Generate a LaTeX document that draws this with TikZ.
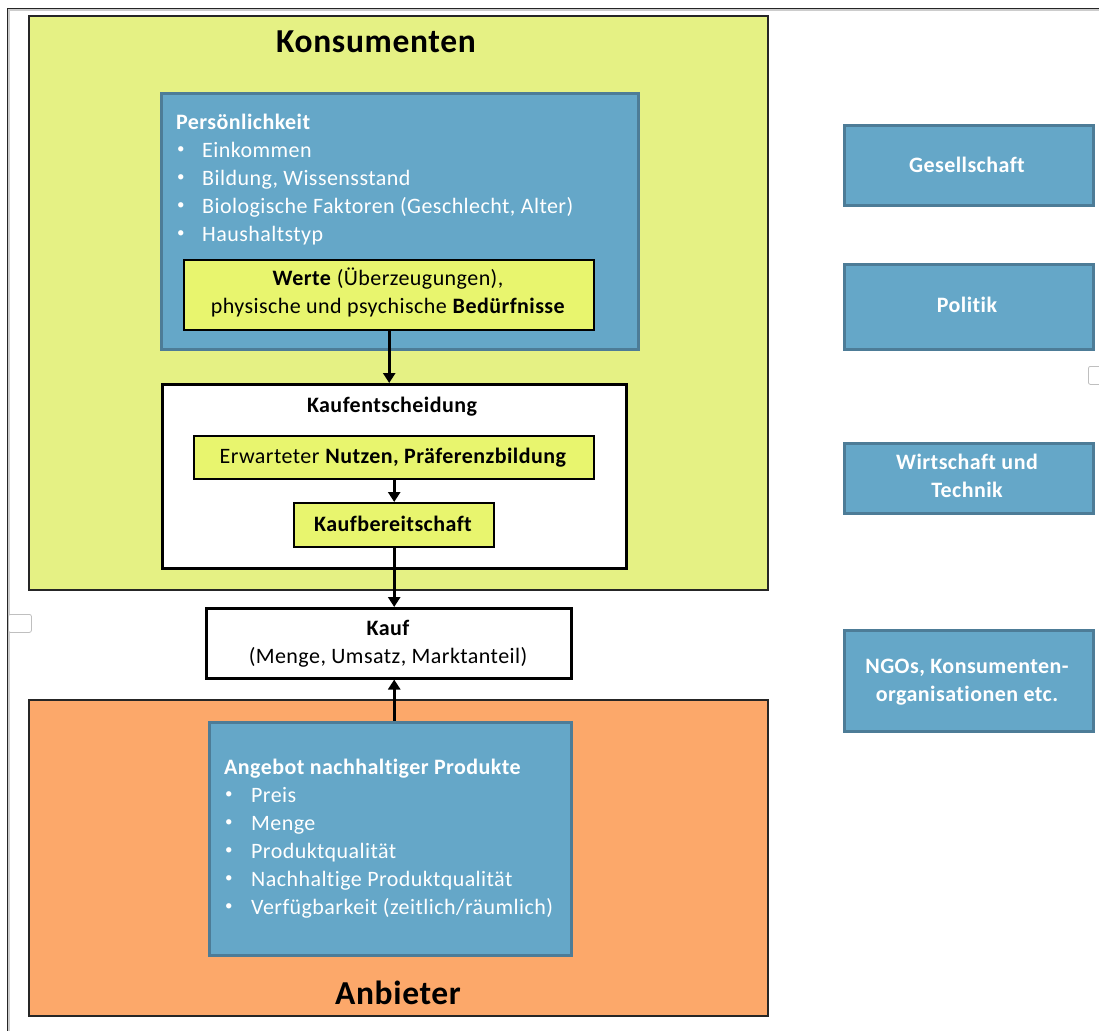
\documentclass[tikz,border=0pt]{standalone}
\usepackage{fontspec}
\setmainfont{Carlito}[LetterSpace=2, Ligatures={NoCommon}]
\usetikzlibrary{arrows.meta,shadows}
\definecolor{konsumfill}{HTML}{E5F184}
\definecolor{innerfill}{HTML}{E8F56E}
\definecolor{bluefill}{HTML}{65A7C8}
\definecolor{blueedge}{HTML}{4D7C97}
\definecolor{anbieterfill}{HTML}{FCA86A}
\newcommand{\bodysize}{\fontsize{22}{28}\selectfont}
\begin{document}
\begin{tikzpicture}[x=1pt,y=-1pt,
  panel/.style={draw=black!85, line width=1.6pt, anchor=north west, inner sep=0pt,
    general shadow={fill=black!30, shadow xshift=1.3pt, shadow yshift=-1.3pt}},
  bluebox/.style={draw=blueedge, fill=bluefill, line width=2.6pt, anchor=north west, inner sep=0pt,
    general shadow={fill=black!18, shadow xshift=1pt, shadow yshift=-1pt}},
  innerbox/.style={draw=black, fill=innerfill, line width=2.4pt, anchor=north west, inner sep=0pt},
  whitebox/.style={draw=black, fill=white, line width=2.8pt, anchor=north west, inner sep=0pt},
  title/.style={font=\fontsize{33.5}{40}\selectfont\bfseries, anchor=base, inner sep=0pt},
  txt/.style={font=\bodysize, anchor=base, inner sep=0pt},
  btxt/.style={font=\bodysize\bfseries, anchor=base, inner sep=0pt},
  wtxt/.style={txt, text=white},
  wbtxt/.style={btxt, text=white},
  dot/.style={font=\fontsize{15}{20}\selectfont, text=white, anchor=west, inner sep=0pt},
  arr/.style={line width=3.2pt, -{Triangle[width=12pt,length=10pt]}},
  tab/.style={draw=black!25, fill=white, line width=0.8pt, rounded corners=2pt, anchor=north west, inner sep=0pt}
]
\useasboundingbox (0,0) rectangle (1099,1030);

% page frame
\draw[black!20, line width=2.4pt] (8.8,1040) -- (8.8,9.8) -- (1110,9.8);
\draw[black!85, line width=1.8pt] (7.5,1040) -- (7.5,8.5) -- (1110,8.5);

% small tabs at the edges
\node[tab, minimum width=23pt, minimum height=18pt] (tabL) at (8,614) {};
\node[tab, minimum width=20pt, minimum height=18pt] (tabR) at (1088,366) {};

% consumer and supplier panels
\node[panel, fill=konsumfill, minimum width=739pt, minimum height=574pt] (konsum) at (28,15) {};
\node[title] (konsumT) at (376,53) {Konsumenten};
\node[panel, fill=anbieterfill, minimum width=739pt, minimum height=316pt] (anbieter) at (28,699) {};
\node[title] (anbieterT) at (398,1004) {Anbieter};

% personality
\node[bluebox, minimum width=477pt, minimum height=256pt] (pers) at (160,92) {};
\node[wbtxt, anchor=base west] (persT) at (176,129) {Persönlichkeit};
\foreach \t [count=\i] in {Einkommen, {Bildung, Wissensstand}, {Biologische Faktoren (Geschlecht, Alter)}, Haushaltstyp} {
  \node[dot] (persB\i) at (177,{122+28*\i}) {•};
  \node[wtxt, anchor=base west] (persI\i) at (202,{129+28*\i}) {\t};
}
\node[innerbox, minimum width=410pt, minimum height=70pt] (werte) at (183,259) {};
\node[txt] (werteA) at (388,285) {\textbf{Werte} (Überzeugungen),};
\node[txt] (werteB) at (388,313) {physische und psychische \textbf{Bedürfnisse}};

% purchase decision
\node[whitebox, minimum width=464pt, minimum height=184pt] (entsch) at (161,383) {};
\node[btxt] (entschT) at (392,412) {Kaufentscheidung};
\node[innerbox, minimum width=400pt, minimum height=43pt] (nutzen) at (193,435) {};
\node[txt] (nutzenT) at (393,463) {Erwarteter \textbf{Nutzen, Präferenzbildung}};
\node[innerbox, minimum width=200pt, minimum height=44pt] (bereit) at (293,502) {};
\node[btxt] (bereitT) at (393,531) {Kaufbereitschaft};

% purchase
\node[whitebox, line width=2.5pt, minimum width=365pt, minimum height=70pt] (kauf) at (205,607) {};
\node[btxt] (kaufA) at (388,635) {Kauf};
\node[txt] (kaufB) at (388,663) {(Menge, Umsatz, Marktanteil)};

% supply
\node[bluebox, minimum width=362pt, minimum height=233pt] (angebot) at (208,721) {};
\node[wbtxt, anchor=base west] (angebotT) at (224,774) {Angebot nachhaltiger Produkte};
\foreach \t [count=\i] in {Preis, Menge, Produktqualität, Nachhaltige Produktqualität, Verfügbarkeit (zeitlich/räumlich)} {
  \node[dot] (angB\i) at (225,{767+28*\i}) {•};
  \node[wtxt, anchor=base west] (angI\i) at (251,{774+28*\i}) {\t};
}

% context factors
\node[bluebox, minimum width=249pt, minimum height=80pt] (gesell) at (843,124) {};
\node[wbtxt] (gesellT) at (967,172) {Gesellschaft};
\node[bluebox, minimum width=249pt, minimum height=85pt] (politik) at (843,263) {};
\node[wbtxt] (politikT) at (967,312) {Politik};
\node[bluebox, minimum width=249pt, minimum height=70pt] (wirt) at (843,442) {};
\node[wbtxt] (wirtA) at (967,469) {Wirtschaft und};
\node[wbtxt] (wirtB) at (967,497) {Technik};
\node[bluebox, minimum width=249pt, minimum height=101pt] (ngo) at (843,629) {};
\node[wbtxt] (ngoA) at (967,673) {NGOs, Konsumenten-};
\node[wbtxt] (ngoB) at (967,701) {organisationen etc.};

% flow
\draw[arr] (werte.south) -- (werte.south |- entsch.north);
\draw[arr] (nutzen.south) -- (bereit.north);
\draw[arr] (bereit.south) -- (bereit.south |- kauf.north);
\draw[arr] (bereit.south |- angebot.north) -- (bereit.south |- kauf.south);
\end{tikzpicture}
\end{document}
